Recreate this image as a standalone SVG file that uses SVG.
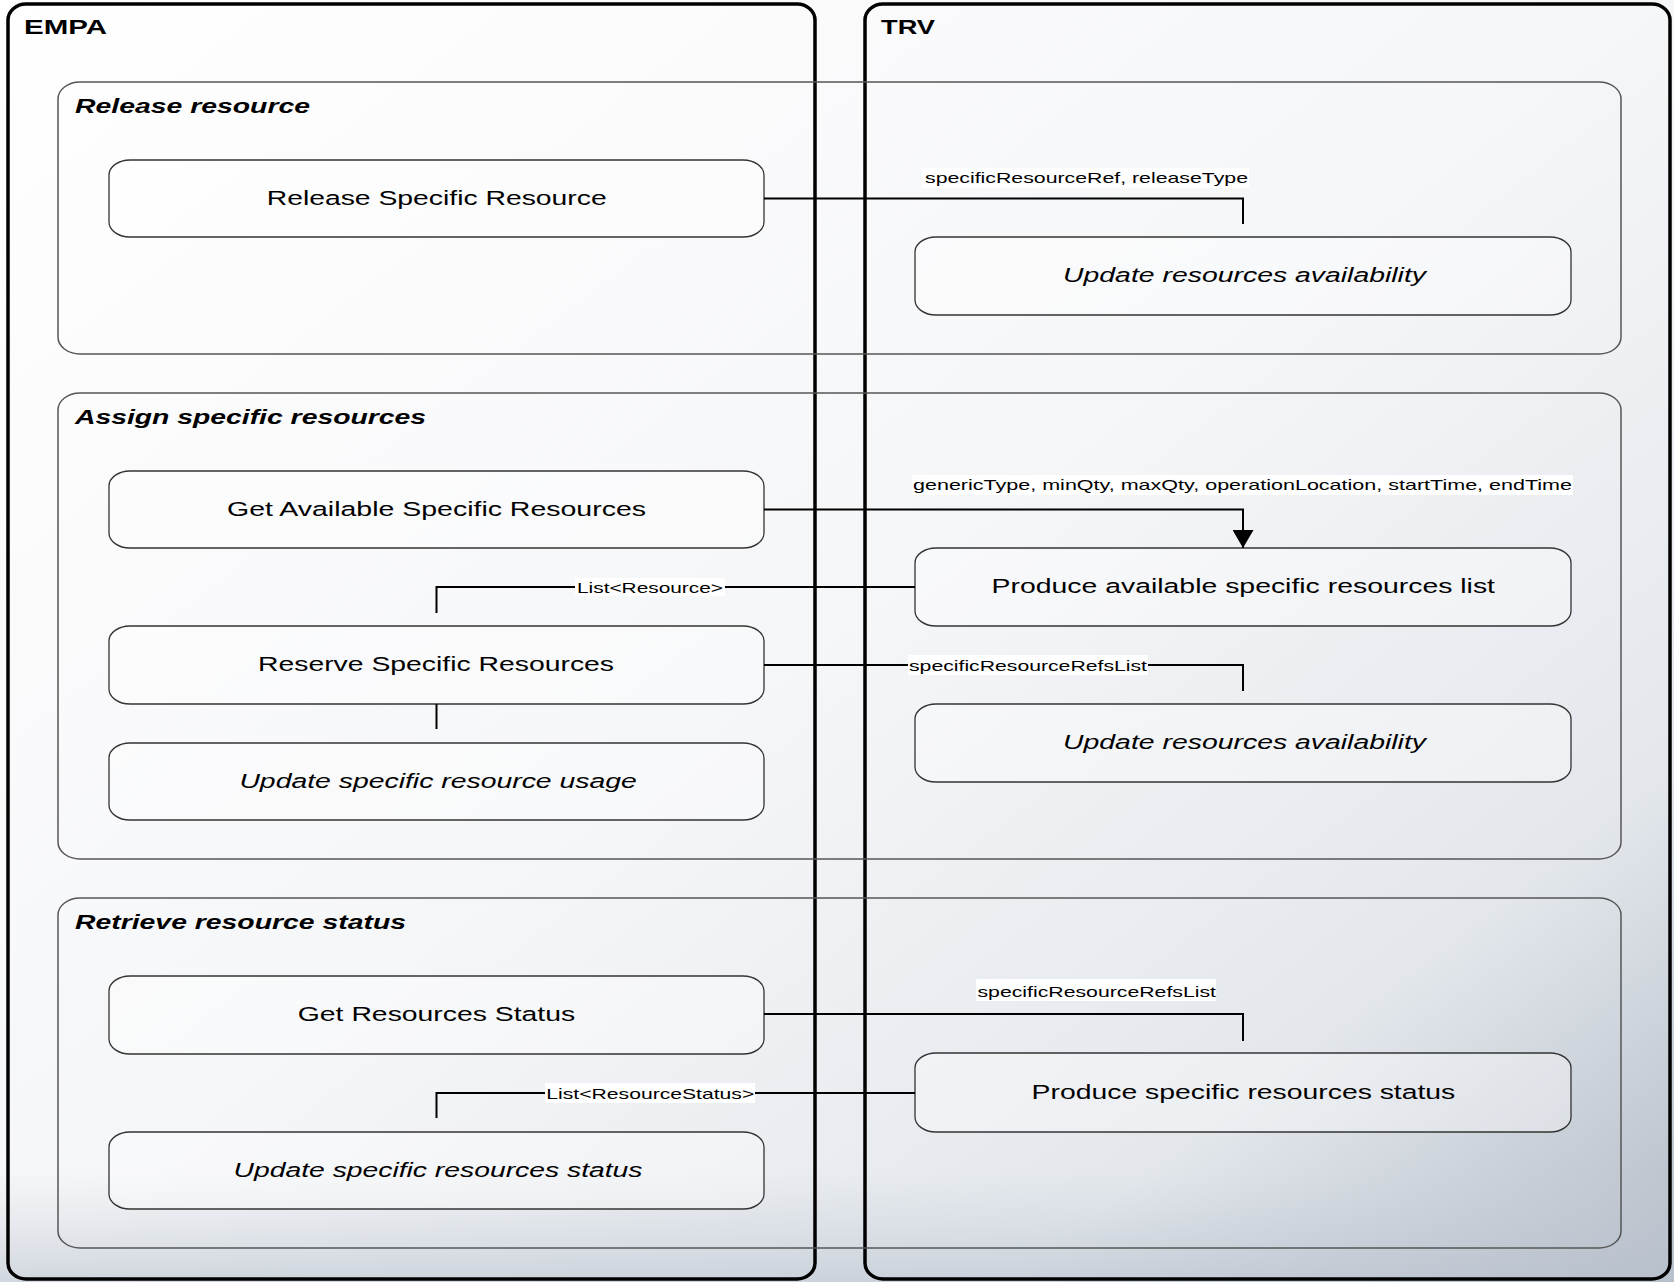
<svg xmlns="http://www.w3.org/2000/svg" width="1674" height="1282" viewBox="0 0 1674 1282">
<defs>
<linearGradient id="bg" x1="0" y1="0" x2="1" y2="1">
<stop offset="0" stop-color="#ffffff"/>
<stop offset="0.5" stop-color="#f5f6f8"/>
<stop offset="0.8" stop-color="#e3e7ec"/>
<stop offset="1" stop-color="#b4bcc7"/>
</linearGradient>
<linearGradient id="bot" x1="0" y1="0" x2="0" y2="1">
<stop offset="0" stop-color="#c9d0d9" stop-opacity="0"/>
<stop offset="1" stop-color="#b9c2ce" stop-opacity="0.6"/>
</linearGradient>
<marker id="arr" markerUnits="userSpaceOnUse" viewBox="0 0 18 21" markerWidth="18" markerHeight="21" refX="18" refY="10.5" orient="auto">
<path d="M0,0 L18,10.5 L0,21 z" fill="#000"/>
</marker>
<style>
.lane{fill:none;stroke:#000;stroke-width:3.5}
.grp{fill:none;stroke:#555;stroke-width:1.5}
.box{fill:#fff;fill-opacity:0.35;stroke:#333;stroke-width:1.3}
.t{font-family:"Liberation Sans",Arial,sans-serif;font-size:20.5px;fill:#000}
.h{font-weight:bold}
.gt{font-weight:bold;font-style:italic}
.it{font-style:italic}
.lbl{font-size:15px}
.lbg{fill:#fff}
.conn{fill:none;stroke:#000;stroke-width:2}
</style>
</defs>
<rect x="0" y="0" width="1674" height="1282" fill="url(#bg)"/>
<rect x="0" y="1170" width="1674" height="112" fill="url(#bot)"/>

<g id="lane-empa">
<rect class="lane" x="8" y="4" width="807" height="1275" rx="18" ry="16"/>
<text class="t h" x="24" y="34" textLength="83" lengthAdjust="spacingAndGlyphs">EMPA</text>
</g>
<g id="lane-trv">
<rect class="lane" x="865" y="4" width="805" height="1275" rx="18" ry="16"/>
<text class="t h" x="881" y="34" textLength="54" lengthAdjust="spacingAndGlyphs">TRV</text>
</g>

<g id="grp-release">
<rect class="grp" x="58" y="82" width="1563" height="272" rx="22" ry="17"/>
<text class="t gt" x="75" y="113" textLength="235" lengthAdjust="spacingAndGlyphs">Release resource</text>
</g>
<g id="grp-assign">
<rect class="grp" x="58" y="393" width="1563" height="466" rx="22" ry="17"/>
<text class="t gt" x="75" y="424" textLength="351" lengthAdjust="spacingAndGlyphs">Assign specific resources</text>
</g>
<g id="grp-retrieve">
<rect class="grp" x="58" y="898" width="1563" height="350" rx="22" ry="17"/>
<text class="t gt" x="75" y="929" textLength="331" lengthAdjust="spacingAndGlyphs">Retrieve resource status</text>
</g>

<g id="n-release-specific">
<rect class="box" x="109" y="160" width="655" height="77" rx="21" ry="15"/>
<text class="t" x="266.7" y="204.5" textLength="340" lengthAdjust="spacingAndGlyphs">Release Specific Resource</text>
</g>
<g id="n-update-avail-1">
<rect class="box" x="915" y="237" width="656" height="78" rx="21" ry="15"/>
<text class="t it" x="1063" y="282" textLength="363" lengthAdjust="spacingAndGlyphs">Update resources availability</text>
</g>
<g id="n-get-available">
<rect class="box" x="109" y="471" width="655" height="77" rx="21" ry="15"/>
<text class="t" x="227" y="515.5" textLength="419" lengthAdjust="spacingAndGlyphs">Get Available Specific Resources</text>
</g>
<g id="n-produce-available">
<rect class="box" x="915" y="548" width="656" height="78" rx="21" ry="15"/>
<text class="t" x="991.5" y="593" textLength="503.5" lengthAdjust="spacingAndGlyphs">Produce available specific resources list</text>
</g>
<g id="n-reserve">
<rect class="box" x="109" y="626" width="655" height="78" rx="21" ry="15"/>
<text class="t" x="258" y="671" textLength="356" lengthAdjust="spacingAndGlyphs">Reserve Specific Resources</text>
</g>
<g id="n-update-avail-2">
<rect class="box" x="915" y="704" width="656" height="78" rx="21" ry="15"/>
<text class="t it" x="1063" y="749" textLength="363" lengthAdjust="spacingAndGlyphs">Update resources availability</text>
</g>
<g id="n-update-usage">
<rect class="box" x="109" y="743" width="655" height="77" rx="21" ry="15"/>
<text class="t it" x="239.4" y="787.5" textLength="397.4" lengthAdjust="spacingAndGlyphs">Update specific resource usage</text>
</g>
<g id="n-get-status">
<rect class="box" x="109" y="976" width="655" height="78" rx="21" ry="15"/>
<text class="t" x="297.8" y="1021" textLength="277.4" lengthAdjust="spacingAndGlyphs">Get Resources Status</text>
</g>
<g id="n-produce-status">
<rect class="box" x="915" y="1053" width="656" height="79" rx="21" ry="15"/>
<text class="t" x="1031.6" y="1098.5" textLength="423.7" lengthAdjust="spacingAndGlyphs">Produce specific resources status</text>
</g>
<g id="n-update-status">
<rect class="box" x="109" y="1132" width="655" height="77" rx="21" ry="15"/>
<text class="t it" x="233.5" y="1176.5" textLength="409" lengthAdjust="spacingAndGlyphs">Update specific resources status</text>
</g>

<g id="connectors">
<path class="conn" d="M764,198.5 H1243 V224"/>
<path class="conn" d="M764,509.5 H1243 V548" marker-end="url(#arr)"/>
<path class="conn" d="M915,587 H436.5 V613"/>
<path class="conn" d="M764,665 H1243 V691"/>
<path class="conn" d="M436.5,704 V729"/>
<path class="conn" d="M764,1014 H1243 V1041"/>
<path class="conn" d="M915,1093 H436.5 V1118"/>
<rect class="lbg" x="922" y="168" width="327" height="20"/>
<text class="t lbl" x="925" y="182.5" textLength="323" lengthAdjust="spacingAndGlyphs">specificResourceRef, releaseType</text>
<rect class="lbg" x="912" y="475" width="661" height="20"/>
<text class="t lbl" x="913" y="490" textLength="659" lengthAdjust="spacingAndGlyphs">genericType, minQty, maxQty, operationLocation, startTime, endTime</text>
<rect class="lbg" x="575" y="578" width="150" height="18"/>
<text class="t lbl" x="577" y="592.5" textLength="146" lengthAdjust="spacingAndGlyphs">List&lt;Resource&gt;</text>
<rect class="lbg" x="908" y="655" width="240" height="20"/>
<text class="t lbl" x="909" y="670.5" textLength="238" lengthAdjust="spacingAndGlyphs">specificResourceRefsList</text>
<rect class="lbg" x="976" y="979" width="240" height="22"/>
<text class="t lbl" x="977.5" y="997" textLength="238.5" lengthAdjust="spacingAndGlyphs">specificResourceRefsList</text>
<rect class="lbg" x="545" y="1083" width="210" height="20"/>
<text class="t lbl" x="546.3" y="1098.5" textLength="208" lengthAdjust="spacingAndGlyphs">List&lt;ResourceStatus&gt;</text>
</g>
</svg>
